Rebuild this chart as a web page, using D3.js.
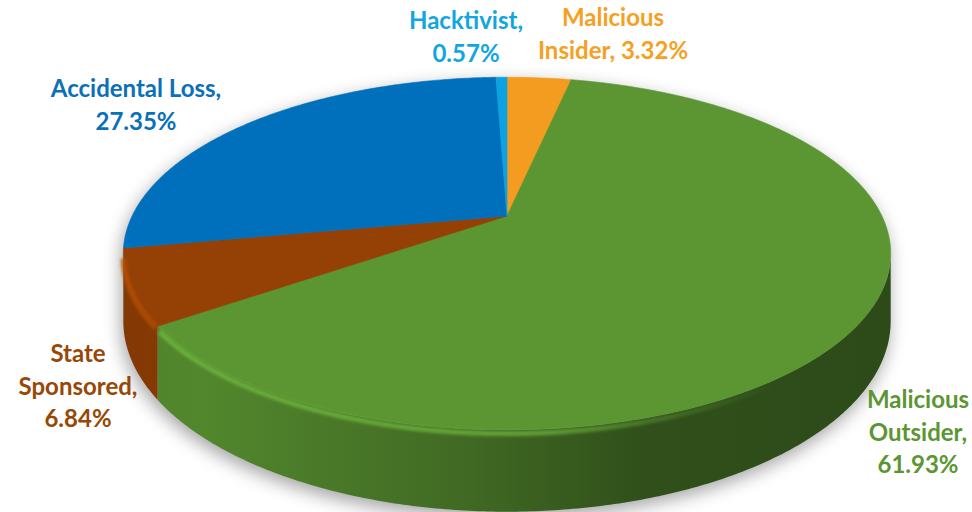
<!DOCTYPE html>
<html>
<head>
<meta charset="utf-8">
<script src="https://cdn.jsdelivr.net/npm/d3@7"></script>
<style>
  body { margin: 0; background: #fff; }
  svg { display: block; }
</style>
</head>
<body>
<div id="chart"></div>
<script>
// data, clockwise from 12 o'clock
var categories = ["Malicious Insider", "Malicious Outsider", "State Sponsored", "Accidental Loss", "Hacktivist"];
var shares = [3.32, 61.93, 6.84, 27.35, 0.57];
var sliceColors = ["#f39c1f", "#5b9632", "#954106", "#0070bd", "#0ba2e3"];
var labelColors = ["#f5a023", "#5b9632", "#974706", "#0a70b8", "#12a6e0"];
// words per label line (how the label wraps)
var labelWrap = [[1, 2], [1, 1, 1], [1, 1, 1], [2, 1], [1, 1]];
var labelPos = [[613, 26], [918, 408], [78, 362], [136, 97], [466, 29]];

var width = 972, height = 512;
var cx = 507, cy = 216, f = 1762, eyeH = 2.11, dist = 4.7, thick = 0.172;

var svg = d3.select("#chart").append("svg")
  .attr("width", width)
  .attr("height", height);

var defs = svg.append("defs");
defs.append("filter").attr("id", "shadow")
  .attr("x", "-20%").attr("y", "-20%").attr("width", "140%").attr("height", "140%")
  .append("feGaussianBlur").attr("stdDeviation", 9);
defs.append("filter").attr("id", "soft")
  .append("feGaussianBlur").attr("stdDeviation", 1.8);

// perspective projection of a point on the unit circle, dy below the top face
function proj(a, dy) {
  var z = dist + Math.cos(a);
  return [cx + f * Math.sin(a) / z, cy + f * (eyeH + dy) / z - f * eyeH / dist];
}
function rim(a0, a1, dy) {
  var n = Math.max(2, Math.ceil(Math.abs(a1 - a0) / 0.01));
  return d3.range(n + 1).map(function (i) { return proj(a0 + (a1 - a0) * i / n, dy); });
}
var line = d3.line();

var pie = d3.pie().sort(null).value(function (d) { return d; });
var arcs = pie(shares);

// visible part of the outer wall
var v0 = Math.acos(-1 / dist), v1 = 2 * Math.PI - v0;

// shadow
var outline = rim(v1, v0 + 2 * Math.PI, 0).concat(rim(v0, v1, thick));
svg.append("path")
  .attr("d", line(outline) + "Z")
  .attr("transform", "translate(-2,6)")
  .attr("fill", "#000")
  .attr("opacity", 0.36)
  .attr("filter", "url(#shadow)");

// side walls
var gSide = svg.append("g");
arcs.forEach(function (d, i) {
  var lo = Math.max(d.startAngle, v0), hi = Math.min(d.endAngle, v1);
  if (hi <= lo) return;
  var c = d3.color(sliceColors[i]);
  var gid = "side" + i;
  var gr = defs.append("linearGradient").attr("id", gid)
    .attr("gradientUnits", "userSpaceOnUse")
    .attr("x1", 127).attr("x2", 890).attr("y1", 0).attr("y2", 0);
  gr.append("stop").attr("offset", 0).attr("stop-color", c.darker(0.35));
  gr.append("stop").attr("offset", 0.1).attr("stop-color", c.darker(0.3));
  gr.append("stop").attr("offset", 0.45).attr("stop-color", c.darker(1.0));
  gr.append("stop").attr("offset", 0.68).attr("stop-color", c.darker(1.8));
  gr.append("stop").attr("offset", 1).attr("stop-color", c.darker(1.95));
  var pts = rim(lo, hi, 0).concat(rim(hi, lo, thick));
  gSide.append("path")
    .attr("d", line(pts) + "Z")
    .attr("fill", "url(#" + gid + ")");
});

// top faces
var gTop = svg.append("g");
arcs.forEach(function (d, i) {
  var pts = [[cx, cy]].concat(rim(d.startAngle, d.endAngle, 0));
  gTop.append("path")
    .attr("d", line(pts) + "Z")
    .attr("fill", sliceColors[i])
    .attr("stroke", sliceColors[i])
    .attr("stroke-width", 0.6);
});

// bevel highlight along the front rim
var gHi = svg.append("g").attr("filter", "url(#soft)");
arcs.forEach(function (d, i) {
  var lo = Math.max(d.startAngle, v0), hi = Math.min(d.endAngle, v1);
  if (hi <= lo) return;
  var c = d3.color(sliceColors[i]);
  var gid = "hi" + i;
  var gr = defs.append("linearGradient").attr("id", gid)
    .attr("gradientUnits", "userSpaceOnUse")
    .attr("x1", 127).attr("x2", 890).attr("y1", 0).attr("y2", 0);
  gr.append("stop").attr("offset", 0).attr("stop-color", c.brighter(0.55)).attr("stop-opacity", 0.85);
  gr.append("stop").attr("offset", 0.55).attr("stop-color", c.brighter(0.5)).attr("stop-opacity", 0.75);
  gr.append("stop").attr("offset", 0.85).attr("stop-color", c.brighter(0.2)).attr("stop-opacity", 0);
  gHi.append("path")
    .attr("d", line(rim(lo + 0.01, hi - 0.01, 0.008)))
    .attr("fill", "none")
    .attr("stroke", "url(#" + gid + ")")
    .attr("stroke-width", 5);
});

// labels
var gLab = svg.append("g")
  .attr("font-family", "Lato, 'Open Sans', sans-serif")
  .attr("font-weight", "bold")
  .attr("font-size", 24)
  .attr("text-anchor", "middle");
categories.forEach(function (name, i) {
  var words = (name + ", " + shares[i].toFixed(2) + "%").split(" ");
  var lines = [], k = 0;
  labelWrap[i].forEach(function (n) { lines.push(words.slice(k, k + n).join(" ")); k += n; });
  var t = gLab.append("text")
    .attr("fill", labelColors[i])
    .attr("x", labelPos[i][0])
    .attr("y", labelPos[i][1]);
  lines.forEach(function (s, j) {
    t.append("tspan")
      .attr("x", labelPos[i][0])
      .attr("dy", j === 0 ? 0 : 32.5)
      .text(s);
  });
});
</script>
</body>
</html>
